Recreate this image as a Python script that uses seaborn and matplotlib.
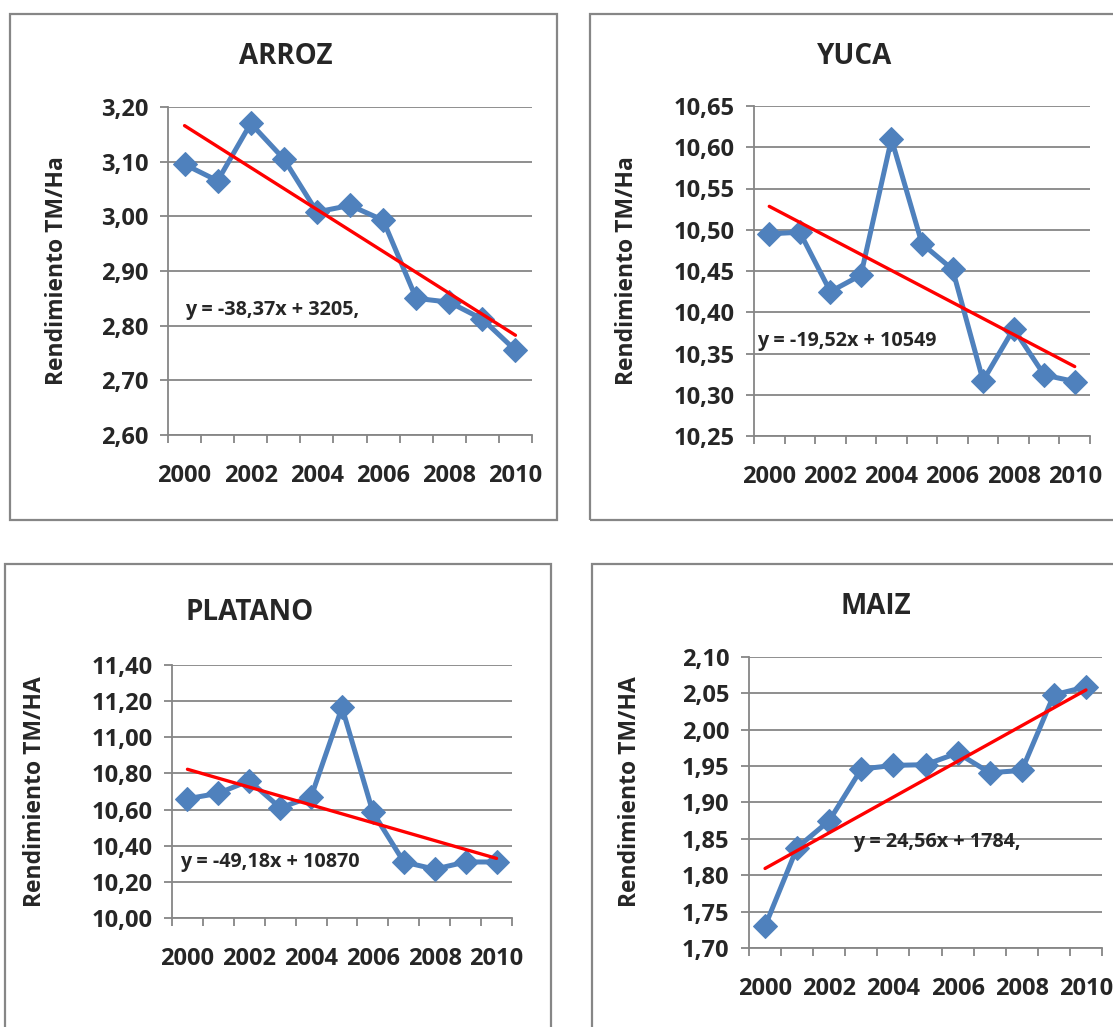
import numpy as np
import pandas as pd
import matplotlib
matplotlib.use("Agg")
import matplotlib.pyplot as plt
from matplotlib.patches import Rectangle
from matplotlib.ticker import FuncFormatter, MultipleLocator
import seaborn as sns

# data
years = list(range(2000, 2011))
arroz = [3.095, 3.065, 3.170, 3.105, 3.008, 3.020, 2.993, 2.850, 2.843, 2.812, 2.755]
yuca = [10.495, 10.497, 10.425, 10.445, 10.610, 10.483, 10.452, 10.317, 10.380, 10.324, 10.316]
platano = [10.66, 10.69, 10.76, 10.61, 10.67, 11.165, 10.585, 10.31, 10.27, 10.31, 10.31]
maiz = [1.730, 1.838, 1.875, 1.946, 1.951, 1.952, 1.968, 1.941, 1.944, 2.048, 2.059]

titles = ["ARROZ", "YUCA", "PLATANO", "MAIZ"]
ylabels = ["Rendimiento TM/Ha", "Rendimiento TM/Ha", "Rendimiento TM/HA", "Rendimiento TM/HA"]
equations = ["y = -38,37x + 3205,", "y = -19,52x + 10549", "y = -49,18x + 10870", "y = 24,56x + 1784,"]
ylims = [(2.60, 3.20), (10.25, 10.65), (10.00, 11.40), (1.70, 2.10)]
ysteps = [0.10, 0.05, 0.20, 0.05]

sns.set_style("white")
plt.rcParams["font.family"] = ["Open Sans", "DejaVu Sans"]
plt.rcParams["font.weight"] = "bold"

BLUE = "#4f81bd"
GRID = "#868686"
W, H = 1113, 1027
TICK_FS = 17

fig = plt.figure(figsize=(W / 100, H / 100), dpi=100)


def frac(x0, y0, x1, y1):
    """pixel box (top-left origin) -> figure fraction rect"""
    return [x0 / W, 1 - y1 / H, (x1 - x0) / W, (y1 - y0) / H]


# plot areas and outer boxes, in pixels
plot_boxes = [(168, 107, 532, 435), (754, 106, 1090, 436),
              (172, 665, 512, 918), (749, 657, 1102, 948)]
frame_boxes = [(10, 14, 557, 520), (590, 14, 1125, 520),
               (5, 564, 551, 1040), (592, 564, 1125, 1040)]
title_pos = [(286, 56), (855, 56), (250, 612), (876, 607)]
ylabel_pos = [(57, 271), (627, 271), (35, 792), (630, 792)]
eq_pos = [(0.047, 0.381), (0.009, 0.288), (0.024, 0.221), (0.295, 0.364)]

series = [arroz, yuca, platano, maiz]

for i in range(4):
    fx0, fy0, fx1, fy1 = frame_boxes[i]
    fig.patches.append(Rectangle((fx0 / W, 1 - fy1 / H), (fx1 - fx0) / W, (fy1 - fy0) / H,
                                 transform=fig.transFigure, fill=False,
                                 edgecolor=GRID, linewidth=1.6))

    ax = fig.add_axes(frac(*plot_boxes[i]))
    df = pd.DataFrame({"year": years, "value": series[i]})

    sns.lineplot(data=df, x="year", y="value", ax=ax, color=BLUE, linewidth=3.6,
                 marker="D", markersize=12, markeredgecolor=BLUE, zorder=3)
    sns.regplot(data=df, x="year", y="value", ax=ax, scatter=False, ci=None,
                color="red", line_kws={"linewidth": 2.4, "zorder": 4})

    lo, hi = ylims[i]
    ax.set_ylim(lo, hi)
    ax.set_xlim(1999.5, 2010.5)
    ax.yaxis.set_major_locator(MultipleLocator(ysteps[i]))
    ax.yaxis.set_major_formatter(FuncFormatter(lambda v, p: f"{v:.2f}".replace(".", ",")))
    ax.grid(axis="y", color=GRID, linewidth=1.3)
    ax.set_axisbelow(True)

    ax.set_xticks(np.arange(1999.5, 2011, 1.0))
    ax.set_xticklabels([])
    ax.set_xticks(years[::2], minor=True)
    ax.set_xticklabels([str(y) for y in years[::2]], minor=True)
    ax.tick_params(axis="x", which="major", length=6, width=1.3, color=GRID, direction="out")
    ax.tick_params(axis="x", which="minor", length=0, pad=21, labelsize=TICK_FS)
    ax.tick_params(axis="y", length=6, width=1.3, color=GRID, direction="out",
                   pad=8, labelsize=TICK_FS)
    ax.tick_params(bottom=True, left=True)

    for s in ["top", "right"]:
        ax.spines[s].set_visible(False)
    for s in ["left", "bottom"]:
        ax.spines[s].set_color(GRID)
        ax.spines[s].set_linewidth(1.3)

    ax.set_xlabel("")
    ax.set_ylabel("")

    ax.text(eq_pos[i][0], eq_pos[i][1], equations[i], transform=ax.transAxes,
            ha="left", va="center", fontsize=14.2, fontweight="bold", zorder=5)

    tx, ty = title_pos[i]
    fig.text(tx / W, 1 - ty / H, titles[i], ha="center", va="center",
             fontsize=20, fontweight="bold")
    lx, ly = ylabel_pos[i]
    fig.text(lx / W, 1 - ly / H, ylabels[i], ha="center", va="center",
             rotation=90, fontsize=16.5, fontweight="bold")

fig.savefig("out.png", dpi=100, facecolor="white")
